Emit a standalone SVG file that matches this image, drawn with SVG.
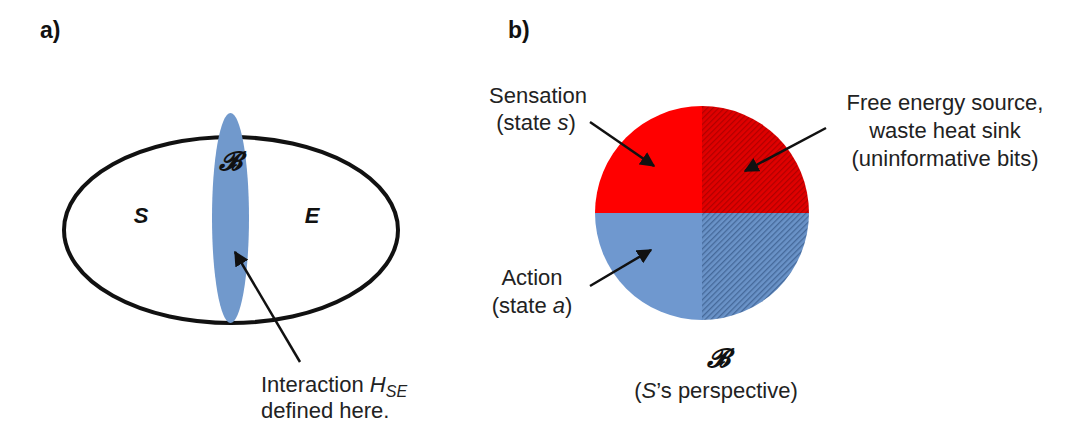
<svg xmlns="http://www.w3.org/2000/svg" width="1080" height="436" viewBox="0 0 1080 436">
<style>
.t{font-family:"Liberation Sans",Arial,sans-serif;font-size:22px;fill:#222}
.lbl{font-family:"Liberation Sans",Arial,sans-serif;font-size:23px;font-weight:bold;fill:#111}
.bi{font-family:"Liberation Sans",Arial,sans-serif;font-size:22px;font-weight:bold;font-style:italic;fill:#111}
.scr{font-family:"DejaVu Serif","Liberation Serif",serif;font-size:26px;font-weight:bold;font-style:italic;fill:#111}
.arr{stroke:#111;stroke-width:2.5;fill:none;marker-end:url(#ah)}
</style>
<defs>
<marker id="ah" viewBox="0 0 10 10" refX="9" refY="5" markerWidth="6" markerHeight="6" orient="auto" markerUnits="strokeWidth">
<path d="M0,0 L10,5 L0,10 z" fill="#111"/>
</marker>
<pattern id="hr" width="4" height="4" patternUnits="userSpaceOnUse" patternTransform="rotate(45)">
<rect width="4" height="4" fill="#e00000"/>
<rect width="1.2" height="4" fill="#b00000"/>
</pattern>
<pattern id="hb" width="4" height="4" patternUnits="userSpaceOnUse" patternTransform="rotate(45)">
<rect width="4" height="4" fill="#6a93c8"/>
<rect width="1.3" height="4" fill="#45699a"/>
</pattern>
</defs>
<text class="lbl" x="40" y="38">a)</text>
<text class="lbl" x="508" y="38">b)</text>
<g id="system">
<ellipse cx="231" cy="230" rx="167" ry="93" fill="none" stroke="#111" stroke-width="4"/>
</g>
<g id="boundary">
<ellipse cx="230.5" cy="218" rx="18.5" ry="105" fill="#7199cc"/>
<text class="scr" x="230" y="170" text-anchor="middle">𝓑</text>
</g>
<g id="S"><text class="bi" x="141" y="223" text-anchor="middle">S</text></g>
<g id="E"><text class="bi" x="312" y="223" text-anchor="middle">E</text></g>
<g id="interaction">
<text class="t" x="261" y="392">Interaction <tspan font-style="italic">H</tspan><tspan font-style="italic" font-size="16" dy="5">SE</tspan></text>
<text class="t" x="261" y="418">defined here.</text>
</g>
<g id="pie">
<path d="M702,213 L595,213 A107,107 0 0 1 702,106 Z" fill="#ff0000"/>
<path d="M702,213 L702,106 A107,107 0 0 1 809,213 Z" fill="url(#hr)"/>
<path d="M702,213 L809,213 A107,107 0 0 1 702,320 Z" fill="url(#hb)"/>
<path d="M702,213 L702,320 A107,107 0 0 1 595,213 Z" fill="#6f98cf"/>
</g>
<g id="sensation">
<text class="t" x="538" y="103" text-anchor="middle">Sensation</text>
<text class="t" x="536" y="130" text-anchor="middle">(state <tspan font-style="italic">s</tspan>)</text>
</g>
<g id="action">
<text class="t" x="532" y="285" text-anchor="middle">Action</text>
<text class="t" x="532" y="313" text-anchor="middle">(state <tspan font-style="italic">a</tspan>)</text>
</g>
<g id="freeenergy">
<text class="t" x="945" y="110" text-anchor="middle">Free energy source,</text>
<text class="t" x="945" y="138" text-anchor="middle">waste heat sink</text>
<text class="t" x="945" y="166" text-anchor="middle">(uninformative bits)</text>
</g>
<g id="perspective">
<text class="scr" x="718" y="367" text-anchor="middle">𝓑</text>
<text class="t" x="716" y="398" text-anchor="middle">(<tspan font-style="italic">S</tspan>’s perspective)</text>
</g>
<g id="connectors">
<line class="arr" x1="300" y1="362" x2="235" y2="252"/>
<line class="arr" x1="590" y1="122" x2="654" y2="166"/>
<line class="arr" x1="590" y1="286" x2="651" y2="250"/>
<line class="arr" x1="826" y1="128" x2="745" y2="171"/>
</g>
</svg>
